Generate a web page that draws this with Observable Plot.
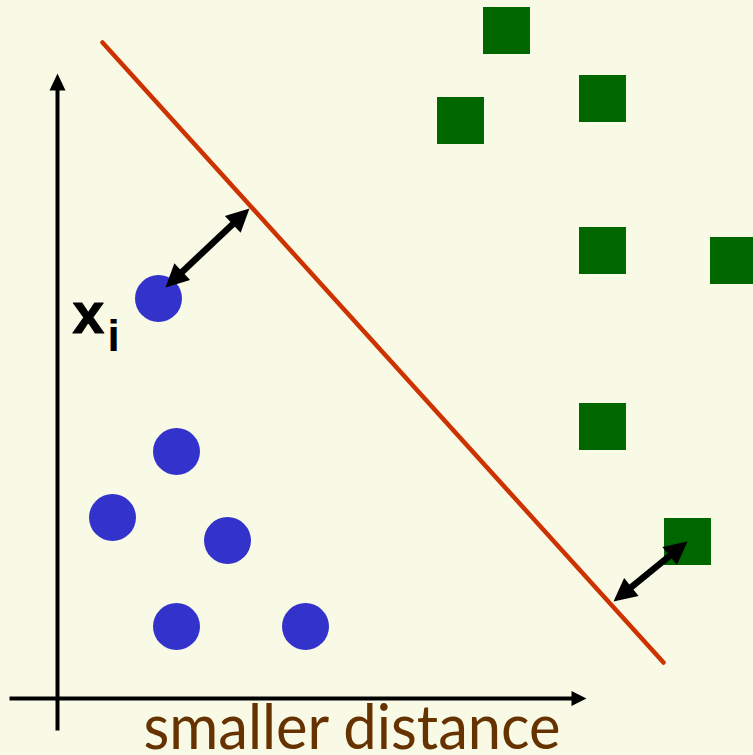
<!DOCTYPE html>
<html>
<head>
<meta charset="utf-8">
<script src="https://cdn.jsdelivr.net/npm/d3@7"></script>
<script src="https://cdn.jsdelivr.net/npm/@observablehq/plot@0.6"></script>
<style>
  html, body { margin: 0; padding: 0; background: #F9FAE6; overflow: hidden; }
  svg { display: block; overflow: hidden; }
</style>
</head>
<body>
<div id="chart"></div>
<script>
// Class A (blue circles)
const blueX = [2.02, 2.38, 1.10, 3.40, 2.38, 4.96];
const blueY = [8.00, 4.94, 3.62, 3.16, 1.44, 1.44];
// Class B (green squares)
const greenX = [8.98, 8.06, 10.90, 10.90, 13.52, 10.90, 12.60];
const greenY = [13.36, 11.56, 12.00, 8.96, 8.76, 5.44, 3.14];
// Separating line
const boundaryX = [0.90, 12.12];
const boundaryY = [13.12, 0.72];
// Margin (distance) double arrows: x1, y1, x2, y2
const distX1 = [2.16, 11.12];
const distY1 = [8.22, 1.94];
const distX2 = [3.84, 12.60];
const distY2 = [9.80, 3.14];
// Axes
const axisYStart = [0, -0.64], axisYEnd = [0, 12.5];
const axisXStart = [-0.96, 0], axisXEnd = [10.58, 0];
// Labels
const labelText = ["x", "i", "smaller distance"];
const labelX = [0.30, 1.0, 1.72];
const labelY = [7.32, 6.96, -1.01];

const blue = blueX.map((x, i) => ({x, y: blueY[i]}));
const green = greenX.map((x, i) => ({x, y: greenY[i]}));
const boundary = boundaryX.map((x, i) => ({x, y: boundaryY[i]}));

function head(fx, fy, tx, ty, len, hw, id) {
  const dx = tx - fx, dy = ty - fy, d = Math.hypot(dx, dy), ux = dx / d, uy = dy / d;
  const bx = tx - ux * len, by = ty - uy * len;
  return [
    {x: tx, y: ty, id},
    {x: bx - uy * hw, y: by + ux * hw, id},
    {x: bx + uy * hw, y: by - ux * hw, id}
  ];
}
function shorten(fx, fy, tx, ty, len) {
  const dx = tx - fx, dy = ty - fy, d = Math.hypot(dx, dy);
  return {x: tx - dx / d * len, y: ty - dy / d * len};
}

const heads = [];
const shafts = [];
heads.push(...head(axisYStart[0], axisYStart[1], axisYEnd[0], axisYEnd[1], 0.34, 0.16, "ay"));
heads.push(...head(axisXStart[0], axisXStart[1], axisXEnd[0], axisXEnd[1], 0.30, 0.15, "ax"));
shafts.push({x: axisYStart[0], y: axisYStart[1], id: "ay"});
shafts.push({...shorten(axisYStart[0], axisYStart[1], axisYEnd[0], axisYEnd[1], 0.3), id: "ay"});
shafts.push({x: axisXStart[0], y: axisXStart[1], id: "ax"});
shafts.push({...shorten(axisXStart[0], axisXStart[1], axisXEnd[0], axisXEnd[1], 0.26), id: "ax"});
const dist = [];
distX1.forEach((x1, i) => {
  const y1 = distY1[i], x2 = distX2[i], y2 = distY2[i];
  heads.push(...head(x1, y1, x2, y2, 0.46, 0.23, "d" + i + "b"));
  heads.push(...head(x2, y2, x1, y1, 0.46, 0.23, "d" + i + "a"));
  dist.push({...shorten(x2, y2, x1, y1, 0.4), id: "d" + i});
  dist.push({...shorten(x1, y1, x2, y2, 0.4), id: "d" + i});
});
const labels = labelText.map((t, i) => ({t, x: labelX[i], y: labelY[i]}));

const chart = Plot.plot({
  width: 753,
  height: 755,
  margin: 0,
  x: {domain: [-1.14, 13.92], axis: null},
  y: {domain: [-1.14, 13.96], axis: null},
  style: {background: "#F9FAE6", overflow: "hidden"},
  marks: [
    Plot.line(shafts, {x: "x", y: "y", z: "id", stroke: "black", strokeWidth: 4, strokeLinecap: "butt"}),
    Plot.line(boundary, {x: "x", y: "y", stroke: "#CC3300", strokeWidth: 4.5}),
    Plot.dot(blue, {x: "x", y: "y", r: 23.5, fill: "#3333CC", stroke: null}),
    Plot.dot(green, {x: "x", y: "y", r: 26.5, symbol: "square", fill: "#006600", stroke: null}),
    Plot.line(dist, {x: "x", y: "y", z: "id", stroke: "black", strokeWidth: 6.5, strokeLinecap: "butt"}),
    Plot.line(heads, {x: "x", y: "y", z: "id", fill: "black", stroke: null, curve: "linear-closed"}),
    Plot.text([labels[0]], {x: "x", y: "y", text: "t", textAnchor: "start", lineAnchor: "bottom",
      fontFamily: "Liberation Sans, Arial, sans-serif", fontWeight: "bold", fontSize: 57, fill: "black",
      stroke: "black", strokeWidth: 1.2}),
    Plot.text([labels[1]], {x: "x", y: "y", text: "t", textAnchor: "start", lineAnchor: "bottom",
      fontFamily: "Liberation Sans, Arial, sans-serif", fontWeight: "bold", fontSize: 44, fill: "black"}),
    Plot.text([labels[2]], {x: "x", y: "y", text: "t", textAnchor: "start", lineAnchor: "bottom",
      fontFamily: "Lato, sans-serif", fontSize: 61, fill: "#663300"})
  ]
});
document.getElementById("chart").appendChild(chart);
chart.querySelectorAll("text").forEach(t => {
  if (t.textContent === "smaller distance") {
    t.setAttribute("textLength", 417);
    t.setAttribute("lengthAdjust", "spacingAndGlyphs");
  }
});
</script>
</body>
</html>
